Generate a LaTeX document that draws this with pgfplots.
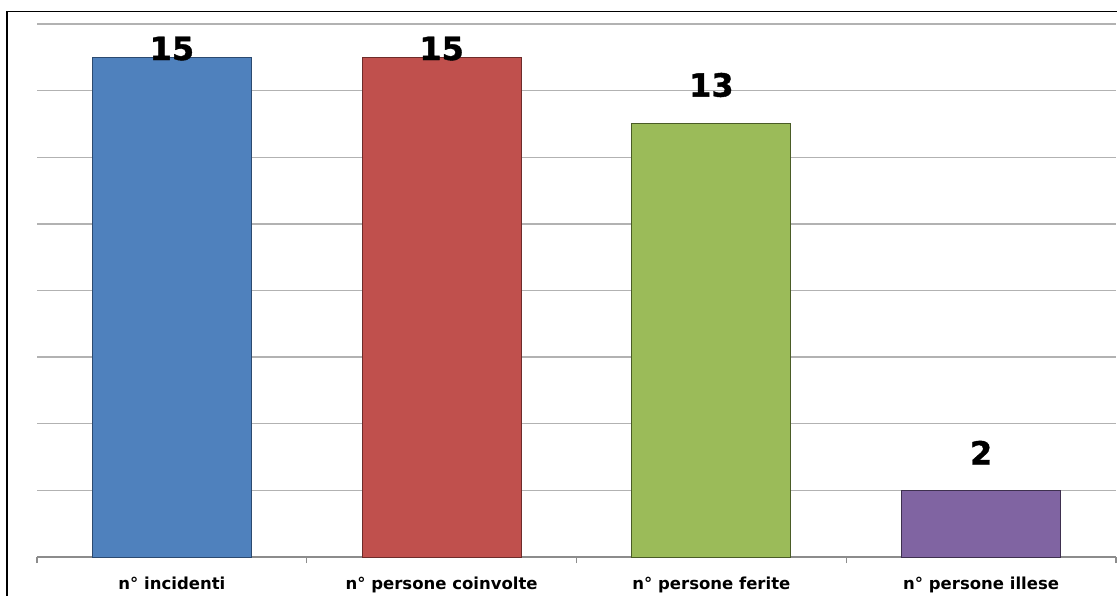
\documentclass[border=0pt]{standalone}
\usepackage{fontspec}
\setmainfont{DejaVu Sans}
\newfontfamily\heavyfont[FakeBold=1.2]{DejaVu Sans Bold}
\usepackage{pgfplots}
\pgfplotsset{compat=1.18}
\definecolor{cblue}{HTML}{4F81BD}
\definecolor{cred}{HTML}{C0504D}
\definecolor{cgreen}{HTML}{9BBB59}
\definecolor{cpurple}{HTML}{8064A2}
\definecolor{bblue}{HTML}{2C4A70}
\definecolor{bred}{HTML}{6E2C2A}
\definecolor{bgreen}{HTML}{4A5C26}
\definecolor{bpurple}{HTML}{3E304F}
\begin{document}
\begin{tikzpicture}[x=1pt,y=1pt]
\path[use as bounding box] (0,0) rectangle (1117,595);
\draw[line width=1.8pt, black] (7,-20) -- (7,583.5) -- (1140,583.5);
\begin{axis}[
  at={(37pt,38pt)}, anchor=south west,
  scale only axis, width=1079pt, height=533pt,
  xmin=-0.5, xmax=3.5, ymin=0, ymax=16,
  ytick={0,2,...,16}, yticklabels={},
  ymajorgrids, grid style={line width=1.3pt, color=black!30},
  axis x line*=bottom, axis y line*=left,
  y axis line style={draw=none}, ytick style={draw=none},
  x axis line style={line width=1.3pt, color=black!45},
  xtick={0,1,2,3},
  xticklabels={n° incidenti, n° persone coinvolte, n° persone ferite, n° persone illese},
  major x tick style={draw=none},
  minor xtick={-0.5,0.5,1.5,2.5,3.5},
  minor x tick style={draw=black!45, line width=1.3pt},
  minor tick length=6pt, xtick align=outside, major tick length=0pt,
  xticklabel style={font=\fontsize{16.5}{20}\selectfont\bfseries, yshift=-16pt, text=black},
  /pgf/number format/assume math mode=true,
  ybar, bar width=159pt, bar shift=0pt,
  nodes near coords,
  every node near coord/.append style={font=\fontsize{32}{38}\selectfont\heavyfont, text=black},
  clip=false,
]
\addplot[fill=cblue, draw=bblue, line width=1pt, every node near coord/.append style={yshift=-7pt}] coordinates {(0,15)};
\addplot[fill=cred, draw=bred, line width=1pt, every node near coord/.append style={yshift=-7pt}] coordinates {(1,15)};
\addplot[fill=cgreen, draw=bgreen, line width=1pt, every node near coord/.append style={yshift=23pt}] coordinates {(2,13)};
\addplot[fill=cpurple, draw=bpurple, line width=1pt, every node near coord/.append style={yshift=22pt}] coordinates {(3,2)};
\end{axis}
\end{tikzpicture}
\end{document}
